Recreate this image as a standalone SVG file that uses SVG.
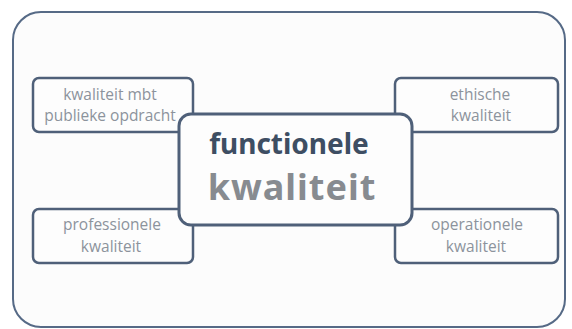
<svg xmlns="http://www.w3.org/2000/svg" width="572" height="329" viewBox="0 0 572 329">
<style>
.frame{fill:#fcfcfc;stroke:#566a86;stroke-width:2}
.box{fill:#fdfdfd;stroke:#4f6079;stroke-width:2.5}
.center{fill:#fdfdfd;stroke:#4f6079;stroke-width:3}
.lbl{font-family:"Open Sans","Noto Sans",sans-serif;font-size:15.5px;fill:#8c939c;text-anchor:middle}
.t1{font-family:"Noto Sans","Open Sans",sans-serif;font-weight:bold;font-size:28px;fill:#3e4e63;text-anchor:middle}
.t2{font-family:"Noto Sans","Open Sans",sans-serif;font-weight:bold;font-size:36px;letter-spacing:1px;fill:#878b90;text-anchor:middle}
</style>
<rect width="572" height="329" fill="#ffffff"/>
<rect class="frame" x="13" y="12" width="552" height="315" rx="28"/>
<g id="n-publiek">
<rect class="box" x="33" y="78" width="160" height="54" rx="6"/>
<text class="lbl" x="110" y="100">kwaliteit mbt</text>
<text class="lbl" x="110" y="121">publieke opdracht</text>
</g>
<g id="n-ethisch">
<rect class="box" x="395" y="78" width="163" height="54" rx="6"/>
<text class="lbl" x="480" y="100">ethische</text>
<text class="lbl" x="481" y="121">kwaliteit</text>
</g>
<g id="n-professioneel">
<rect class="box" x="33" y="209" width="160" height="54" rx="6"/>
<text class="lbl" x="112" y="230">professionele</text>
<text class="lbl" x="111" y="252">kwaliteit</text>
</g>
<g id="n-operationeel">
<rect class="box" x="395" y="209" width="163" height="54" rx="6"/>
<text class="lbl" x="477" y="230">operationele</text>
<text class="lbl" x="476" y="252">kwaliteit</text>
</g>
<g id="n-functioneel">
<rect class="center" x="179" y="114" width="233" height="111" rx="12"/>
<text class="t1" x="289" y="154">functionele</text>
<text class="t2" x="292" y="200">kwaliteit</text>
</g>
<g id="connectors"></g>
</svg>
